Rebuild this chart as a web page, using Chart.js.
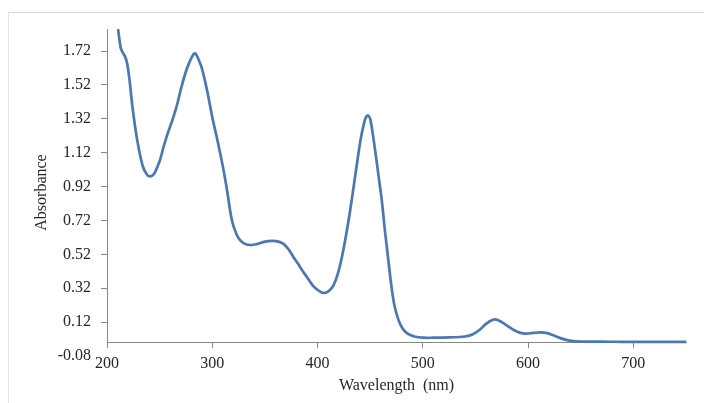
<!DOCTYPE html>
<html>
<head>
<meta charset="utf-8">
<script src="https://cdn.jsdelivr.net/npm/chart.js@4"></script>
<style>
  body { margin: 0; background: #fff; }
  #wrap { position: relative; width: 704px; height: 403px; }
  #frame { position: absolute; left: 8px; top: 12px; right: 0; bottom: 0; border-top: 1px solid #d9d9d9; border-left: 1px solid #e3e3e3; }
  canvas { position: absolute; left: 0; top: 0; }
</style>
</head>
<body>
<div id="wrap">
  <div id="frame"></div>
  <canvas id="spectrum" width="704" height="403"></canvas>
</div>
<script>
// absorption spectrum
const wavelengths = [
  210.5, 213, 215, 217, 219, 221, 224, 227, 230, 234, 238, 241, 244, 246, 250, 254, 258, 262, 266, 270, 274,
  278, 282, 284, 287, 290, 295, 300, 305, 310, 314, 318, 321, 325, 330, 336, 342, 350, 357, 363, 368,
  373, 377, 382, 386, 390, 395, 399, 403, 407, 411, 415, 419, 423, 427, 431, 435, 438, 441, 444, 446,
  448, 450, 452, 455, 458, 461, 464, 467, 470, 473, 477, 481, 486, 492, 500, 510, 525, 540, 548, 555,
  560, 566, 570, 575, 580, 586, 592, 598, 605, 612, 618, 624, 630, 637, 645, 660, 680, 700, 720, 750
];
const absorbance = [
  1.85, 1.74, 1.71, 1.69, 1.65, 1.57, 1.40, 1.26, 1.15, 1.04, 0.99, 0.98, 0.99, 1.01, 1.07, 1.16, 1.24, 1.31, 1.39, 1.49, 1.58,
  1.65, 1.70, 1.705, 1.67, 1.62, 1.49, 1.33, 1.19, 1.04, 0.90, 0.74, 0.67, 0.615, 0.585, 0.575, 0.58, 0.595, 0.60, 0.595, 0.58,
  0.545, 0.505, 0.46, 0.42, 0.385, 0.34, 0.315, 0.298, 0.292, 0.305, 0.335, 0.40, 0.50, 0.63, 0.78, 0.95, 1.08, 1.20, 1.29, 1.33,
  1.34, 1.32, 1.25, 1.12, 0.98, 0.84, 0.66, 0.50, 0.34, 0.22, 0.13, 0.08, 0.05, 0.035, 0.028, 0.028, 0.03, 0.035, 0.05, 0.08,
  0.11, 0.133, 0.135, 0.12, 0.10, 0.075, 0.058, 0.052, 0.056, 0.059, 0.055, 0.042, 0.027, 0.014, 0.007, 0.005, 0.004, 0.003, 0.003, 0.003
];
const xTicks = [200, 300, 400, 500, 600, 700];
const yTicks = [-0.08, 0.12, 0.32, 0.52, 0.72, 0.92, 1.12, 1.32, 1.52, 1.72];

const axisColor = '#868686';
const textColor = '#262626';
const serif = 'Liberation Serif';

// y axis line only runs down to where the x axis crosses (A = 0)
const yAxisLine = {
  id: 'yAxisLine',
  beforeDatasetsDraw(chart) {
    const { ctx, chartArea, scales } = chart;
    const x = Math.round(chartArea.left) + 0.5;
    ctx.save();
    ctx.strokeStyle = axisColor;
    ctx.lineWidth = 1;
    ctx.beginPath();
    ctx.moveTo(x, chartArea.top);
    ctx.lineTo(x, scales.y.getPixelForValue(0));
    ctx.stroke();
    ctx.restore();
  }
};

const points = wavelengths.map((w, i) => ({ x: w, y: absorbance[i] }));

new Chart(document.getElementById('spectrum'), {
  type: 'line',
  data: {
    datasets: [{
      data: points,
      borderColor: '#4a78b5',
      borderWidth: 2.7,
      pointRadius: 0,
      tension: 0.35,
      fill: false,
    }],
  },
  options: {
    responsive: false,
    animation: false,
    layout: { padding: { left: 28, right: 18, top: 29, bottom: 47 } },
    plugins: { legend: { display: false }, tooltip: { enabled: false } },
    scales: {
      x: {
        type: 'linear',
        position: { y: 0 },
        min: 200,
        max: 750,
        afterBuildTicks: (scale) => { scale.ticks = xTicks.map(v => ({ value: v })); },
        grid: { drawOnChartArea: false, drawTicks: true, tickLength: 5, color: axisColor },
        border: { display: true, color: axisColor, width: 1 },
        ticks: { color: textColor, font: { family: serif, size: 16 }, padding: 7, maxRotation: 0 },
        title: { display: true, text: 'Wavelength  (nm)', color: textColor, font: { family: serif, size: 16 }, padding: { top: -4, bottom: 0 } },
      },
      y: {
        type: 'linear',
        min: -0.08,
        max: 1.85,
        afterBuildTicks: (scale) => { scale.ticks = yTicks.map(v => ({ value: v })); },
        afterFit: (scale) => { scale.width = 79; },
        grid: {
          drawOnChartArea: false,
          drawTicks: true,
          tickLength: 6,
          color: (c) => (c.tick && c.tick.value < 0 ? 'rgba(0,0,0,0)' : axisColor),
        },
        border: { display: false },
        ticks: {
          color: textColor,
          font: { family: serif, size: 16 },
          padding: 10,
          callback: (v) => Number(v).toFixed(2),
        },
        title: { display: true, text: 'Absorbance', color: textColor, font: { family: serif, size: 16 }, padding: 4 },
      },
    },
  },
  plugins: [yAxisLine],
});
</script>
</body>
</html>
